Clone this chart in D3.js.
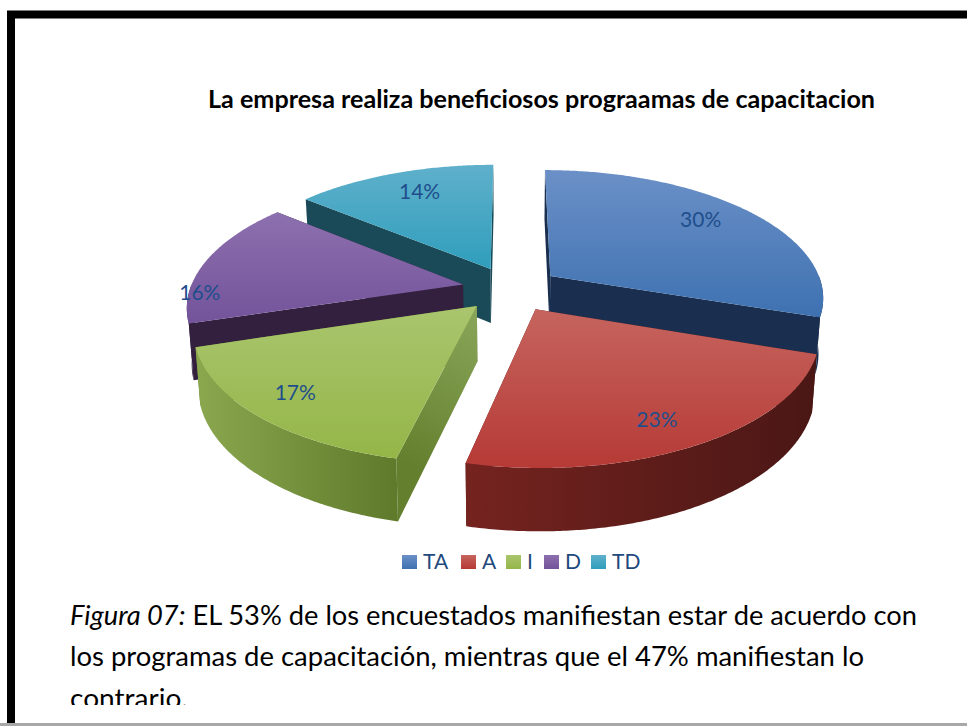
<!DOCTYPE html>
<html>
<head>
<meta charset="utf-8">
<script src="https://cdn.jsdelivr.net/npm/d3@7/dist/d3.min.js"></script>
<style>html,body{margin:0;padding:0;background:#fff}svg{display:block}</style>
</head>
<body>
<svg id="chart" width="967" height="726"></svg>
<script>
const categories = ["TA", "A", "I", "D", "TD"];
const values = [30.2, 23.4, 16.6, 15.8, 14.0];
const titleText = "La empresa realiza beneficiosos prograamas de capacitacion";
const captionLead = "Figura 07:";
const captionLines = [
  " EL 53% de los encuestados manifiestan estar de acuerdo con",
  "los programas de capacitación, mientras que el 47% manifiestan lo",
  "contrario."
];

const topLight = ["#6b90c7", "#c6645e", "#aac56e", "#8d70af", "#5fb0cb"];
const topDark  = ["#3e71b1", "#b63a36", "#94b648", "#73539a", "#2f9ebc"];
const wallDark = ["#1a2f50", "#4b1816", "#64802e", "#33203f", "#1a4a57"];
const rimLeft  = ["#1a2f50", "#75231f", "#8ba84f", "#33203f", "#1a4a57"];
const rimRight = ["#1a2f50", "#4a1715", "#5f7a2b", "#33203f", "#1a4a57"];
const drawOrder = [4, 0, 3, 2, 1];
const labelRadius = [0.79, 0.82, 0.83, 0.96, 0.78];
const labelTurn = [-3.3, 2.2, 1.2, -15, 2.2];
const legendStart = [402, 461, 506, 544, 591];

const svg = d3.select("#chart");
const defs = svg.append("defs");
const cx = 511, cy = 289, A = 273, B = 126.4, persp = 0.158, explode = 0.18, thick = 55, baseShrink = 0.985;
const TAU = 2 * Math.PI;
const xWorld = d3.scaleLinear().domain([0, 1]).range([0, A]);
const yWorld = d3.scaleLinear().domain([0, 1]).range([0, B]);

const fontMain = "Lato, 'Open Sans', sans-serif";

// frame
svg.append("path")
  .attr("d", "M11,726V14.5H967")
  .attr("fill", "none").attr("stroke", "#000").attr("stroke-width", 8);
svg.append("rect").attr("x", 0).attr("y", 723).attr("width", 967).attr("height", 3).attr("fill", "#a8a8a8");

svg.append("text").attr("x", 208).attr("y", 108)
  .attr("font-family", fontMain).attr("font-weight", 700).attr("font-size", 24)
  .attr("fill", "#000").attr("textLength", 667).attr("lengthAdjust", "spacingAndGlyphs")
  .text(titleText);

const arcs = d3.pie().sort(null).value(d => d).startAngle(0).endAngle(TAU)(values);
const line = d3.line().curve(d3.curveLinear);

function project(wx, wy, drop) {
  const s = 1 / (1 - persp * wy);
  const x = xWorld(wx) * s;
  return [
    cx + (drop ? x * baseShrink : x),
    cy + yWorld(wy) * s + (drop ? thick * Math.pow(s, 0.7) : 0)
  ];
}

arcs.forEach((a, i) => { a.index = i; a.mid = (a.startAngle + a.endAngle) / 2; });

function rimPoint(a, t, drop) {
  const ex = Math.sin(a.mid) * explode, ey = -Math.cos(a.mid) * explode;
  return project(Math.sin(t) + ex, -Math.cos(t) + ey, drop);
}
function apexPoint(a, drop) {
  const ex = Math.sin(a.mid) * explode, ey = -Math.cos(a.mid) * explode;
  return project(ex, ey, drop);
}
function rimRange(t0, t1) {
  const n = Math.max(2, Math.ceil((t1 - t0) / 0.01));
  return d3.range(n + 1).map(k => t0 + (t1 - t0) * k / n);
}
function gradient(id, x1, y1, x2, y2, stops) {
  const g = defs.append("linearGradient").attr("id", id)
    .attr("gradientUnits", "userSpaceOnUse")
    .attr("x1", x1).attr("y1", y1).attr("x2", x2).attr("y2", y2);
  stops.forEach((c, k) => g.append("stop").attr("offset", k / (stops.length - 1)).attr("stop-color", c));
  return "url(#" + id + ")";
}

const pieG = svg.append("g");
drawOrder.forEach(i => {
  const a = arcs[i];
  const g = pieG.append("g");
  const ts = rimRange(a.startAngle, a.endAngle);
  const topPts = [apexPoint(a, false), ...ts.map(t => rimPoint(a, t, false))];
  const ys = topPts.map(p => p[1]);

  // radial walls: the green slice shows its leading wall, so it goes last
  const wallAngles = i === 2 ? [a.endAngle, a.startAngle] : [a.startAngle, a.endAngle];
  wallAngles.forEach(t => {
    const p0 = apexPoint(a, false), p1 = rimPoint(a, t, false);
    const p2 = rimPoint(a, t, true), p3 = apexPoint(a, true);
    let fill = wallDark[i];
    if (i === 2 && t === a.startAngle) {
      fill = gradient("wall" + i, p0[0], p0[1], p1[0], p1[1], ["#8aa65a", "#64802e"]);
    }
    g.append("path").attr("d", line([p0, p1, p2, p3]) + "Z").attr("fill", fill);
  });

  // visible part of the outer rim
  const r0 = Math.max(a.startAngle, Math.PI / 2), r1 = Math.min(a.endAngle, Math.PI * 1.5);
  if (r1 > r0) {
    const rs = rimRange(r0, r1);
    const upper = rs.map(t => rimPoint(a, t, false));
    const lower = rs.map(t => rimPoint(a, t, true)).reverse();
    const xs = upper.map(p => p[0]);
    const fill = gradient("rim" + i, d3.min(xs), 0, d3.max(xs), 0, [rimLeft[i], rimRight[i]]);
    g.append("path").attr("d", line(upper.concat(lower)) + "Z").attr("fill", fill);
  }

  // top face
  const fill = gradient("top" + i, 0, d3.min(ys), 0, d3.max(ys), [topLight[i], topDark[i]]);
  g.append("path").attr("d", line(topPts) + "Z").attr("fill", fill);
});

// data labels
arcs.forEach((a, i) => {
  const t = a.mid + labelTurn[i] * Math.PI / 180;
  const ex = Math.sin(a.mid) * explode, ey = -Math.cos(a.mid) * explode;
  const p = project(Math.sin(t) * labelRadius[i] + ex, -Math.cos(t) * labelRadius[i] + ey, false);
  svg.append("text").attr("x", p[0]).attr("y", p[1]).attr("dy", "0.35em")
    .attr("text-anchor", "middle").attr("font-family", fontMain).attr("font-size", 21)
    .attr("fill", "#1f4e8c").text(Math.round(a.value) + "%");
});

// legend
const legend = svg.append("g");
categories.forEach((c, i) => {
  const x = legendStart[i];
  legend.append("rect").attr("x", x).attr("y", 555).attr("width", 15).attr("height", 14)
    .attr("fill", gradient("leg" + i, 0, 555, 0, 569, [topLight[i], topDark[i]]));
  legend.append("text").attr("x", x + 21).attr("y", 569)
    .attr("font-family", fontMain).attr("font-size", 21).attr("fill", "#1f497d").text(c);
});

// caption
defs.append("clipPath").attr("id", "capClip").append("rect")
  .attr("x", 0).attr("y", 590).attr("width", 967).attr("height", 115);
const cap = svg.append("g").attr("clip-path", "url(#capClip)")
  .attr("font-family", fontMain).attr("font-size", 27).attr("fill", "#000");
const line1 = cap.append("text").attr("x", 70).attr("y", 625)
  .attr("textLength", 847).attr("lengthAdjust", "spacingAndGlyphs").attr("xml:space", "preserve");
line1.append("tspan").attr("font-style", "italic").text(captionLead);
line1.append("tspan").text(captionLines[0]);
cap.append("text").attr("x", 70).attr("y", 666)
  .attr("textLength", 794).attr("lengthAdjust", "spacingAndGlyphs").text(captionLines[1]);
cap.append("text").attr("x", 70).attr("y", 708)
  .attr("textLength", 118).attr("lengthAdjust", "spacingAndGlyphs").text(captionLines[2]);
</script>
</body>
</html>
